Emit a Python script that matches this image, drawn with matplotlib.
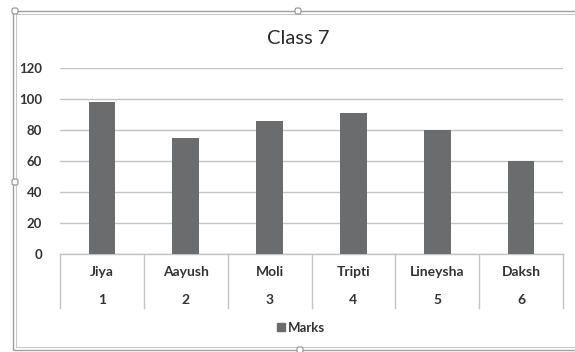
import matplotlib
matplotlib.use("Agg")
from matplotlib import pyplot as plt
from matplotlib.patches import Patch, Rectangle, FancyBboxPatch
import matplotlib.transforms as mtransforms

# data
names = ["Jiya", "Aayush", "Moli", "Tripti", "Lineysha", "Daksh"]
numbers = ["1", "2", "3", "4", "5", "6"]
marks = [98, 75, 86, 91, 80, 60]
yticks = [0, 20, 40, 60, 80, 100, 120]
title = "Class 7"
series_name = "Marks"

bar_color = "#6b6c6e"
grid_color = "#c4c4c4"
text_color = "#333333"

plt.rcParams["font.family"] = ["Lato", "DejaVu Sans"]

W, H = 575, 352
fig = plt.figure(figsize=(W / 100, H / 100), dpi=100)

# plot area in pixel coords -> figure fractions
left, right, top, bottom = 60, 563, 68, 254
ax = fig.add_axes([left / W, 1 - bottom / H, (right - left) / W, (bottom - top) / H])

x = list(range(len(names)))
ax.bar(x, marks, width=0.32, color=bar_color, zorder=3)

ax.set_xlim(-0.5, len(names) - 0.5)
ax.set_ylim(0, 120)
ax.set_yticks(yticks)
ax.set_yticklabels([str(v) for v in yticks], fontsize=9.5, fontweight="bold", color=text_color)
ax.tick_params(axis="y", length=0, pad=13)
ax.set_xticks([])
ax.yaxis.grid(True, color=grid_color, linewidth=1.0, zorder=0)
for s in ["top", "right", "left"]:
    ax.spines[s].set_visible(False)
ax.spines["bottom"].set_color(grid_color)
ax.spines["bottom"].set_linewidth(1.0)

# category table under the axis
trans = mtransforms.blended_transform_factory(ax.transData, ax.transAxes)
depth = (308 - bottom) / (bottom - top)
for b in [i - 0.5 for i in range(len(names) + 1)]:
    ax.plot([b, b], [0, -depth], transform=trans, color=grid_color, lw=1.0, clip_on=False)
for i, (n, k) in enumerate(zip(names, numbers)):
    ax.text(i, -(272 - bottom) / (bottom - top), n, transform=trans, ha="center", va="center",
            fontsize=10, fontweight="bold", color=text_color)
    ax.text(i, -(300 - bottom) / (bottom - top), k, transform=trans, ha="center", va="center",
            fontsize=10, fontweight="bold", color=text_color)

fig.text(298 / W, 1 - 38 / H, title, ha="center", va="center", fontsize=14.5, color="#2a2a2a")

fig.legend(handles=[Patch(color=bar_color, label=series_name)], loc="center",
           bbox_to_anchor=(301 / W, 1 - 328 / H), frameon=False, handlelength=0.55,
           handleheight=0.55, handletextpad=0.2, prop={"size": 9.5, "weight": "bold"},
           labelcolor=text_color)

# chart selection frame
frame_kw = dict(transform=None, fill=False, edgecolor="#a0a0a0", lw=1.0)
fig.add_artist(Rectangle((13, H - 350), W + 10, 339, **frame_kw))
fig.add_artist(Rectangle((16, H - 347), W + 10, 333, transform=None, fill=False,
                         edgecolor="#c8c8c8", lw=0.8))
for hx, hy in [(15, 11), (298, 11), (15, 182), (300, 350)]:
    fig.add_artist(FancyBboxPatch((hx - 3, H - hy - 3), 6, 6, boxstyle="round,pad=0,rounding_size=2",
                                  transform=None, facecolor="white", edgecolor="#909090", lw=0.8))

plt.savefig("out.png", dpi=100)
